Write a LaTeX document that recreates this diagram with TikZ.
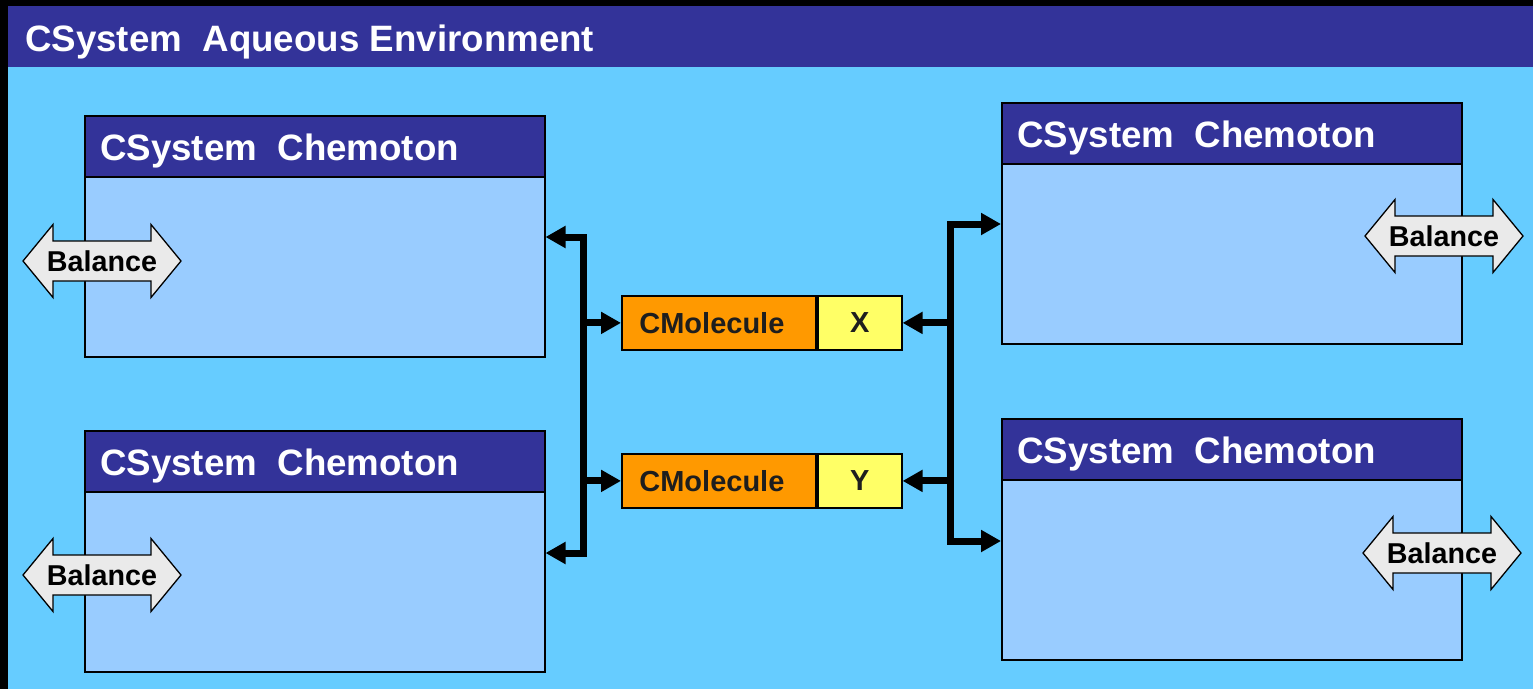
\documentclass[tikz,border=0pt]{standalone}
\usepackage{fontspec}
\setmainfont{Liberation Sans}
\usetikzlibrary{arrows.meta}
\definecolor{dkblue}{HTML}{333399}
\definecolor{envblue}{HTML}{66CCFF}
\definecolor{bodyblue}{HTML}{99CCFF}
\definecolor{molorange}{HTML}{FF9900}
\definecolor{molyellow}{HTML}{FFFF66}
\definecolor{balfill}{HTML}{EAEAEA}
\definecolor{moltxt}{HTML}{1E1E1E}
\begin{document}
\begin{tikzpicture}[x=1pt,y=-1pt,
  sysbox/.style={draw=black, line width=1.5pt, fill=bodyblue, inner sep=0pt,
    minimum width=460pt, minimum height=241pt, anchor=north west},
  syshead/.style={draw=black, line width=1.5pt, fill=dkblue, inner sep=0pt,
    minimum width=460pt, minimum height=61pt, anchor=north west},
  headtext/.style={text=white, font=\fontsize{36.7}{44}\selectfont\bfseries,
    inner sep=0pt, anchor=base west},
  baltext/.style={text=black, font=\fontsize{28.7}{34}\selectfont\bfseries, inner sep=0pt},
  molbox/.style={draw=black, line width=1.8pt, inner sep=0pt, minimum height=54pt,
    text=moltxt, font=\fontsize{29}{34}\selectfont\bfseries, anchor=north west},
  molname/.style={molbox, fill=molorange, minimum width=194pt},
  molval/.style={molbox, fill=molyellow, minimum width=84pt},
  conn/.style={line width=7pt, line join=miter, draw=black},
  tip/.tip={Triangle[length=20pt,width=21pt]},
  balance/.pic={
    \draw[fill=balfill, line width=1.3pt, line join=miter]
      (-79,0) -- (-49,-36.5) -- (-49,-20) -- (49,-20) -- (49,-36.5) -- (79,0)
      -- (49,36.5) -- (49,20) -- (-49,20) -- (-49,36.5) -- cycle;
    \node[baltext] (-label) at (0,0) {Balance};
  }]
% frame and background
\fill[black] (0,0) rectangle (1533,689);
\fill[envblue] (8,67) rectangle (1533,689);
\fill[dkblue] (8,6) rectangle (1533,67);
\node[headtext] (title) at (25,51) {CSystem\ \ Aqueous Environment};

% system boxes
\node[sysbox] (tl) at (84,115) {};
\node[syshead] (tlh) at (tl.north west) {};
\node[headtext] (tlt) at (100,160) {CSystem\ \ Chemoton};

\node[sysbox] (bl) at (84,430) {};
\node[syshead] (blh) at (bl.north west) {};
\node[headtext] (blt) at (100,475) {CSystem\ \ Chemoton};

\node[sysbox] (tr) at (1001,102) {};
\node[syshead] (trh) at (tr.north west) {};
\node[headtext] (trt) at (1017,147) {CSystem\ \ Chemoton};

\node[sysbox] (br) at (1001,418) {};
\node[syshead] (brh) at (br.north west) {};
\node[headtext] (brt) at (1017,463) {CSystem\ \ Chemoton};

% balance arrows
\pic (bal1) at (102,261) {balance};
\pic (bal2) at (102,575) {balance};
\pic (bal3) at (1444,236) {balance};
\pic (bal4) at (1442,553) {balance};

% molecules
\node[molname] (xn) at (621,295) {\hspace*{-14pt}CMolecule};
\node[molval] (xv) at (xn.north east) {X};
\node[molname] (yn) at (621,453) {\hspace*{-14pt}CMolecule};
\node[molval] (yv) at (yn.north east) {Y};

% buses
\coordinate (lbt) at (583,237);
\coordinate (lbb) at (583,553);
\coordinate (rbt) at (950,224);
\coordinate (rbb) at (950,541);

\draw[conn, tip-tip] (tl.east |- lbt) -- (lbt) -- (lbb) -- (bl.east |- lbb);
\draw[conn, -tip] (lbt |- xn) -- (xn.west);
\draw[conn, -tip] (lbt |- yn) -- (yn.west);

\draw[conn, tip-tip] (tr.west |- rbt) -- (rbt) -- (rbb) -- (br.west |- rbb);
\draw[conn, -tip] (rbt |- xv) -- (xv.east);
\draw[conn, -tip] (rbt |- yv) -- (yv.east);
\end{tikzpicture}
\end{document}
